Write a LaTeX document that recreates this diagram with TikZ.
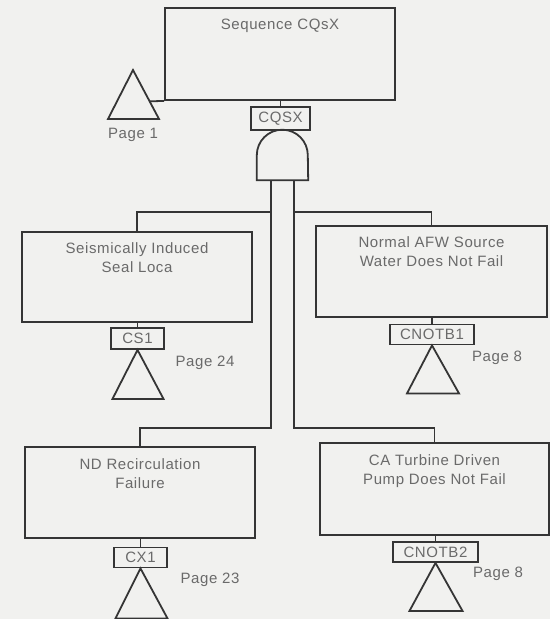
\documentclass[tikz,border=0pt]{standalone}
\usepackage{fontspec}
\setmainfont{Liberation Sans}[LetterSpace=4]
\usetikzlibrary{calc}
\definecolor{ink}{HTML}{353535}
\definecolor{txt}{HTML}{6A6A6A}
\definecolor{paper}{HTML}{F1F1EF}

\begin{document}
\begin{tikzpicture}[x=1pt,y=-1pt,
  wire/.style={draw=ink,line width=1.8pt,line join=miter},
  event/.style={wire,rectangle,minimum width=230pt,minimum height=91pt,inner sep=0pt},
  evtext/.style={text=txt,align=center,font=\fontsize{15}{19}\selectfont,anchor=north,inner sep=0pt},
  tag/.style={wire,rectangle,text=txt,inner sep=0pt,minimum height=20pt,font=\fontsize{15}{18}\selectfont},
  pagetext/.style={text=txt,font=\fontsize{15}{18}\selectfont,inner sep=0pt}]

% page and bounding box
\fill[paper] (0,0) rectangle (550,619);
\useasboundingbox (0,0) rectangle (550,619);

% top event
\node[event,minimum height=92pt] (top) at (280,54) {};
\node[evtext] (toptext) at ([yshift=-12pt]top.north) {Sequence CQsX};
\node[tag,minimum width=59pt,minimum height=23pt] (cqsx) at (280.5,118.5) {CQSX};
\draw[wire] (cqsx.north |- top.south) -- (cqsx.north);

% transfer-out triangle to page 1
\coordinate (tri0) at (133,70);
\coordinate (tri0r) at (159,119);
\draw[wire] (tri0) -- ++(-25,49) -- (tri0r) -- cycle;
\draw[wire] ($(tri0)!0.64!(tri0r)$) -- (top.south west);
\node[pagetext] (p1) at (133,135) {Page 1};

% AND gate
\node[minimum width=51pt,minimum height=50pt,inner sep=0pt] (gate) at (282.5,155) {};
\draw[wire] (gate.south west) -- ++(0,-25) arc[start angle=180,end angle=0,radius=25.5pt]
  -- (gate.south east) -- cycle;
\coordinate (gl) at ([xshift=-11.5pt]gate.south);
\coordinate (gr) at ([xshift=11.5pt]gate.south);

% branch levels
\coordinate (ja) at (0,212);
\coordinate (jb) at (0,428);

% input events
\node[event,minimum height=90pt] (b1) at (137,277) {};
\node[evtext] (b1text) at ([yshift=-11pt]b1.north) {Seismically Induced\\Seal Loca};
\node[event,minimum width=231pt] (b2) at (431.5,271.5) {};
\node[evtext] (b2text) at ([yshift=-11pt]b2.north) {Normal AFW Source\\Water Does Not Fail};
\node[event] (b3) at (140,492.5) {};
\node[evtext] (b3text) at ([yshift=-12pt]b3.north) {ND Recirculation\\Failure};
\node[event,minimum width=229pt,minimum height=92pt] (b4) at (434.5,489) {};
\node[evtext] (b4text) at ([yshift=-12pt]b4.north) {CA Turbine Driven\\Pump Does Not Fail};

% gate inputs
\draw[wire] (gl) -- (gl |- jb) -| (b3.north);
\draw[wire] (gl |- ja) -| (b1.north);
\draw[wire] (gr) -- (gr |- jb) -| (b4.north);
\draw[wire] (gr |- ja) -| (b2.north);

% identifiers
\node[tag,minimum width=53pt,minimum height=21pt] (cs1) at (137.5,338.5) {CS1};
\node[tag,minimum width=84pt] (cnotb1) at (432,334.5) {CNOTB1};
\node[tag,minimum width=53pt] (cx1) at (140.5,557.5) {CX1};
\node[tag,minimum width=85pt] (cnotb2) at (435.5,552) {CNOTB2};
\draw[wire] (cs1.north |- b1.south) -- (cs1.north);
\draw[wire] (cnotb1.north |- b2.south) -- (cnotb1.north);
\draw[wire] (cx1.north |- b3.south) -- (cx1.north);
\draw[wire] (cnotb2.north |- b4.south) -- (cnotb2.north);

% transfer-in triangles
\draw[wire] (cs1.south) -- ++(-25,49) -- ++(51,0) -- cycle;
\draw[wire] (cnotb1.south) -- ++(-25,48) -- ++(52,0) -- cycle;
\draw[wire] (cx1.south) -- ++(-25,50) -- ++(52,0) -- cycle;
\draw[wire] (cnotb2.south) -- ++(-26,48) -- ++(53,0) -- cycle;
\node[pagetext] (p24) at (205,363) {Page 24};
\node[pagetext] (p8a) at (497,358) {Page 8};
\node[pagetext] (p23) at (210,580) {Page 23};
\node[pagetext] (p8b) at (498,574) {Page 8};

\end{tikzpicture}
\end{document}
